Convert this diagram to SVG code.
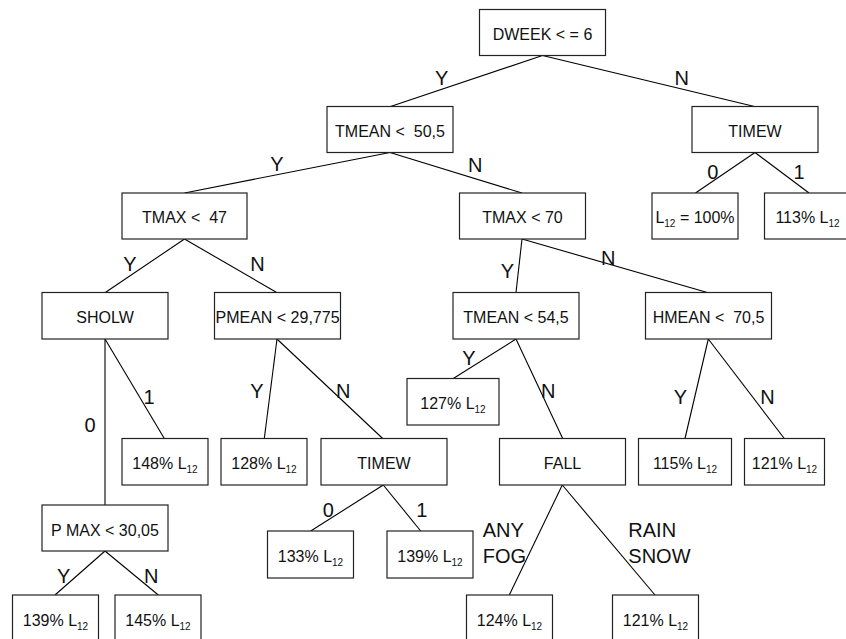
<svg xmlns="http://www.w3.org/2000/svg" width="846" height="639" viewBox="0 0 846 639">
<style>
.box{fill:#fff;stroke:#222;stroke-width:1.2}
.t{font-family:"Liberation Sans",Arial,sans-serif;font-size:16px;fill:#111;text-anchor:middle;white-space:pre}
.s{font-size:10px}
.e{stroke:#000;stroke-width:1.1;fill:none}
.l{font-family:"Liberation Sans",Arial,sans-serif;font-size:20px;fill:#111;text-anchor:middle}
.la{font-family:"Liberation Sans",Arial,sans-serif;font-size:20px;fill:#111}
</style>
<rect width="846" height="639" fill="#fff"/>
<g id="connectors">
<line class="e" x1="542.5" y1="55.5" x2="390.5" y2="106.5"/>
<line class="e" x1="542.5" y1="55.5" x2="754.5" y2="106.5"/>
<line class="e" x1="390" y1="152.5" x2="184.5" y2="193"/>
<line class="e" x1="390" y1="152.5" x2="522" y2="193"/>
<line class="e" x1="755" y1="152.5" x2="695.5" y2="193"/>
<line class="e" x1="755" y1="152.5" x2="809" y2="193"/>
<line class="e" x1="184.5" y1="239" x2="105.3" y2="292.5"/>
<line class="e" x1="184.5" y1="239" x2="276.7" y2="292.5"/>
<line class="e" x1="522" y1="239" x2="516" y2="292.5"/>
<line class="e" x1="522" y1="239" x2="707.3" y2="292.5"/>
<line class="e" x1="105" y1="339" x2="105" y2="505"/>
<line class="e" x1="105" y1="339" x2="164.3" y2="438.5"/>
<line class="e" x1="277" y1="339" x2="264.3" y2="438.5"/>
<line class="e" x1="277" y1="339" x2="382.7" y2="438.5"/>
<line class="e" x1="516" y1="339" x2="453.3" y2="378.5"/>
<line class="e" x1="516" y1="339" x2="562.7" y2="438.5"/>
<line class="e" x1="708.3" y1="339" x2="685" y2="438.5"/>
<line class="e" x1="708.3" y1="339" x2="784.3" y2="438.5"/>
<line class="e" x1="383.3" y1="485" x2="310.7" y2="531"/>
<line class="e" x1="383.3" y1="485" x2="420.7" y2="531"/>
<line class="e" x1="562.3" y1="485" x2="509.3" y2="595"/>
<line class="e" x1="562.3" y1="485" x2="655" y2="595"/>
<line class="e" x1="105" y1="551" x2="55" y2="595"/>
<line class="e" x1="105" y1="551" x2="158.3" y2="595"/>
<g id="edge-labels">
<text class="l" x="441.7" y="85">Y</text>
<text class="l" x="681.7" y="85">N</text>
<text class="l" x="277" y="171">Y</text>
<text class="l" x="475.3" y="172.3">N</text>
<text class="l" x="712.7" y="179">0</text>
<text class="l" x="799" y="179">1</text>
<text class="l" x="130" y="271">Y</text>
<text class="l" x="257.5" y="271">N</text>
<text class="l" x="507.5" y="278">Y</text>
<text class="l" x="608.3" y="265">N</text>
<text class="l" x="469" y="365">Y</text>
<text class="l" x="548.3" y="398.3">N</text>
<text class="l" x="680.3" y="404">Y</text>
<text class="l" x="767.5" y="404">N</text>
<text class="l" x="149" y="404">1</text>
<text class="l" x="90" y="431.7">0</text>
<text class="l" x="257" y="398.3">Y</text>
<text class="l" x="343.3" y="398.3">N</text>
<text class="l" x="328.3" y="517.3">0</text>
<text class="l" x="421.7" y="517.3">1</text>
<text class="l" x="63.7" y="582.7">Y</text>
<text class="l" x="151.3" y="582.7">N</text>
<text class="la" x="482.7" y="536.7">ANY</text>
<text class="la" x="482.7" y="562.7">FOG</text>
<text class="la" x="628.3" y="536.7">RAIN</text>
<text class="la" x="628.3" y="562.7">SNOW</text>
</g>
</g>
<g id="n-dweek"><rect class="box" x="479.5" y="9.5" width="126" height="46"/><text class="t" x="542.5" y="39.5">DWEEK &lt; = 6</text></g>
<g id="n-tmean50"><rect class="box" x="327" y="106.5" width="126" height="46"/><text class="t" x="390" y="136.7">TMEAN &lt;  50,5</text></g>
<g id="n-timew1"><rect class="box" x="692" y="106.5" width="126" height="46"/><text class="t" x="755" y="136.7">TIMEW</text></g>
<g id="n-tmax47"><rect class="box" x="122" y="193" width="125" height="46"/><text class="t" x="184.5" y="223">TMAX &lt;  47</text></g>
<g id="n-tmax70"><rect class="box" x="459.5" y="193" width="126" height="46"/><text class="t" x="522.5" y="223">TMAX &lt; 70</text></g>
<g id="n-l100"><rect class="box" x="652" y="193" width="86" height="46"/><text class="t" x="695" y="223">L<tspan class="s" dy="4">12</tspan><tspan dy="-4"> = 100%</tspan></text></g>
<g id="n-p113"><rect class="box" x="764.5" y="193" width="86" height="46"/><text class="t" x="807.5" y="223">113% L<tspan class="s" dy="4">12</tspan></text></g>
<g id="n-sholw"><rect class="box" x="42" y="292.5" width="126" height="46.5"/><text class="t" x="105" y="323">SHOLW</text></g>
<g id="n-pmean"><rect class="box" x="214.5" y="292.5" width="126" height="46.5"/><text class="t" x="277.5" y="323">PMEAN &lt; 29,775</text></g>
<g id="n-tmean54"><rect class="box" x="453" y="292.5" width="126" height="46.5"/><text class="t" x="516" y="323">TMEAN &lt; 54,5</text></g>
<g id="n-hmean"><rect class="box" x="645.5" y="292.5" width="126" height="46.5"/><text class="t" x="708.5" y="323">HMEAN &lt;  70,5</text></g>
<g id="n-p127"><rect class="box" x="407" y="378.5" width="92" height="46.5"/><text class="t" x="453" y="409">127% L<tspan class="s" dy="4">12</tspan></text></g>
<g id="n-p148"><rect class="box" x="122" y="438.5" width="86" height="46.5"/><text class="t" x="165" y="469.3">148% L<tspan class="s" dy="4">12</tspan></text></g>
<g id="n-p128"><rect class="box" x="221" y="438.5" width="86" height="46.5"/><text class="t" x="264" y="469.3">128% L<tspan class="s" dy="4">12</tspan></text></g>
<g id="n-timew2"><rect class="box" x="321" y="438.5" width="126" height="46.5"/><text class="t" x="384" y="469.3">TIMEW</text></g>
<g id="n-fall"><rect class="box" x="499.5" y="438.5" width="126" height="46.5"/><text class="t" x="562.5" y="469.3">FALL</text></g>
<g id="n-p115"><rect class="box" x="638.5" y="438.5" width="93" height="46.5"/><text class="t" x="685" y="469.3">115% L<tspan class="s" dy="4">12</tspan></text></g>
<g id="n-p121a"><rect class="box" x="744.5" y="438.5" width="80" height="46.5"/><text class="t" x="784.5" y="469.3">121% L<tspan class="s" dy="4">12</tspan></text></g>
<g id="n-pmax"><rect class="box" x="42" y="505" width="126" height="46"/><text class="t" x="105" y="536">P MAX &lt; 30,05</text></g>
<g id="n-p133"><rect class="box" x="267.5" y="531" width="86" height="47"/><text class="t" x="310.5" y="562">133% L<tspan class="s" dy="4">12</tspan></text></g>
<g id="n-p139b"><rect class="box" x="387" y="531" width="86" height="47"/><text class="t" x="430" y="562">139% L<tspan class="s" dy="4">12</tspan></text></g>
<g id="n-p139a"><rect class="box" x="12.5" y="595" width="86" height="47"/><text class="t" x="55.5" y="626">139% L<tspan class="s" dy="4">12</tspan></text></g>
<g id="n-p145"><rect class="box" x="115" y="595" width="86" height="47"/><text class="t" x="158" y="626">145% L<tspan class="s" dy="4">12</tspan></text></g>
<g id="n-p124"><rect class="box" x="466.5" y="595" width="86" height="47"/><text class="t" x="509.5" y="626">124% L<tspan class="s" dy="4">12</tspan></text></g>
<g id="n-p121b"><rect class="box" x="612.5" y="595" width="86" height="47"/><text class="t" x="655.5" y="626">121% L<tspan class="s" dy="4">12</tspan></text></g>
</svg>
